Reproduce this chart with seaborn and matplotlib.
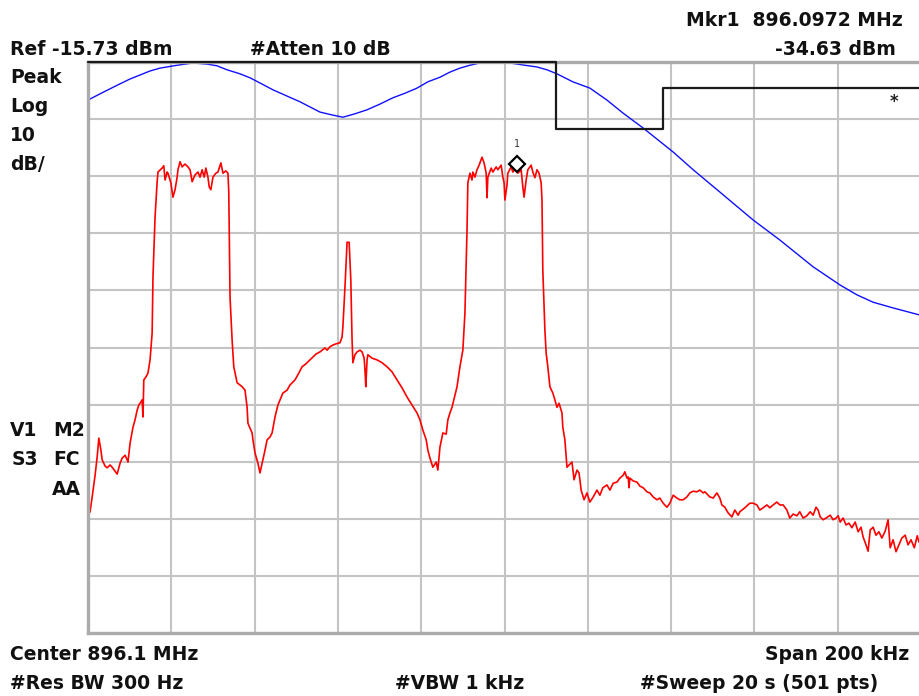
import numpy as np
import seaborn as sns
import matplotlib.pyplot as plt
from matplotlib.transforms import offset_copy

# analyzer settings (from the screen annotations)
ref_level = -15.73
db_per_div = 10
span_khz = 200
mkr_khz = 3.0          # where the marker diamond sits on screen
mkr_db = -34.63

# red trace: offset from 896.1 MHz (kHz) and level (dBm)
red_khz = ([-100.0, -99.5, -99.0, -98.3, -97.8, -97.4, -96.9, -96.6, -95.9, -95.4,
            -94.7, -94.2, -93.5, -93.0, -92.6, -92.3, -91.8, -91.1, -90.6, -90.4,
            -89.9, -89.2, -88.7, -88.2, -87.8, -87.5, -87.0, -86.8, -86.6, -86.1,
            -85.6, -85.1, -84.6, -84.4, -83.9, -83.4, -83.2]
           + [-82.2, -81.8, -81.5, -81.0, -80.8, -80.1, -79.6, -79.1, -78.6, -78.4,
              -77.9, -77.4, -76.7, -76.0, -75.5, -75.0, -74.3, -73.6, -73.1, -72.6,
              -72.1, -71.7, -71.2, -70.9, -70.5, -70.0, -69.3, -68.8, -68.1, -67.6,
              -66.9, -66.4, -66.2]
           + [-65.9, -65.4, -65.0, -64.2, -63.0, -62.3, -61.8, -61.6, -60.6, -60.4,
              -59.9, -59.2, -58.7, -58.0, -57.5, -57.0, -56.3, -55.8, -55.1, -54.4,
              -53.2, -52.2, -51.5, -50.3, -49.6, -48.6, -47.7, -46.7, -46.0, -45.3,
              -44.3, -43.1, -42.6, -41.9, -41.2, -40.5, -39.5, -39.0, -38.8, -38.3,
              -37.8, -37.3, -37.1, -36.9, -36.6, -36.4, -35.9, -35.4, -34.7, -34.2,
              -33.7, -33.5, -33.3, -33.0, -32.8, -31.8, -30.6, -29.4, -28.2, -27.0,
              -25.8, -24.6, -23.4, -22.2, -21.0, -20.3, -19.6, -18.8, -18.4, -17.9,
              -17.2, -16.4, -16.0, -15.5, -14.8, -14.0, -13.6, -13.1, -12.6, -11.9,
              -11.4, -10.7, -10.0, -9.5, -9.0, -8.8, -8.3]
           + [-7.8, -7.6, -7.1, -6.6, -6.1, -5.4, -4.9, -4.4, -4.2, -4.0,
              -3.2, -2.8, -2.0, -1.6, -0.8, -0.4, -0.1, 0.1, 0.6, 0.8,
              1.6, 2.0, 2.8, 3.2, 4.0, 4.4, 4.7, 5.2, 5.6, 6.4,
              6.8, 7.3, 7.8, 8.3, 8.8, 9.0]
           + [9.2, 9.7, 10.0, 10.4, 10.9, 11.6, 12.1, 12.6, 13.1, 13.8,
              14.0, 14.5, 15.0, 15.5, 16.2, 16.7, 17.4, 17.9, 18.4, 19.1,
              19.8, 20.5]
           + [21.3, 22.2, 22.9, 23.6, 24.6, 25.3, 26.1, 27.0, 27.7, 28.5,
              28.9, 29.4, 29.7, 29.9, 30.1, 30.9, 31.8, 32.5, 33.3, 34.2,
              34.9, 35.7, 36.6, 37.3, 38.1, 39.0, 39.7, 40.5, 41.4, 42.1,
              42.9, 43.8, 44.5, 45.3, 46.2, 46.9, 47.7, 48.1, 49.3, 50.1,
              51.0, 51.7, 52.2, 52.9, 53.7, 54.6, 55.3, 56.1, 56.5, 57.7,
              58.9, 59.7, 60.6, 61.3, 62.1, 63.0, 63.7, 64.5, 65.4, 66.1,
              66.9, 67.8, 68.5, 69.3, 70.2, 70.9, 71.7, 72.6, 73.4, 74.1,
              74.8, 75.3, 75.8, 76.5, 77.2, 78.2, 78.9, 79.6, 80.1, 80.6,
              81.3, 82.0, 82.7, 83.4, 84.2, 84.9, 85.6, 86.1, 86.8, 87.3,
              87.8, 88.5, 89.2, 89.9, 90.6, 91.4, 92.1, 92.6, 93.3, 94.0,
              94.7, 95.4, 96.2, 96.9, 97.6, 98.4, 99.1, 99.5, 100.0])

red_db = ([-95.1, -94.5, -91.9, -88.1, -84.9, -81.6, -83.7, -85.4, -86.5, -86.8,
           -86.3, -86.7, -87.4, -87.9, -86.8, -86.0, -85.1, -84.6, -85.4, -85.8,
           -82.5, -79.7, -78.4, -76.7, -75.8, -75.5, -74.9, -77.9, -71.4, -70.9,
           -70.2, -67.9, -63.2, -53.4, -42.9, -36.7, -35.0]
          + [-34.3, -33.9, -36.4, -35.0, -35.2, -36.9, -39.4, -38.1, -35.9, -34.6,
             -33.2, -34.1, -33.6, -34.1, -34.6, -36.7, -35.5, -35.0, -35.9, -34.6,
             -35.9, -34.3, -35.9, -37.6, -38.1, -35.9, -35.2, -35.0, -33.4, -35.2,
             -34.8, -35.2, -38.5]
          + [-56.9, -64.4, -69.1, -71.9, -72.6, -73.2, -76.2, -79.0, -80.7, -81.9,
             -84.2, -86.0, -87.7, -85.4, -83.7, -81.9, -81.4, -80.7, -77.9, -75.8,
             -73.7, -73.2, -72.3, -71.4, -70.5, -69.1, -68.6, -67.9, -67.4, -66.9,
             -66.5, -65.8, -66.2, -65.6, -65.3, -65.1, -64.9, -63.9, -62.1, -55.1,
             -47.3, -47.3, -50.8, -53.9, -64.4, -68.4, -67.0, -66.5, -66.2, -66.5,
             -67.6, -69.7, -72.6, -67.9, -67.0, -67.6, -67.9, -68.4, -69.1, -70.0,
             -71.4, -72.8, -74.4, -75.8, -77.2, -78.4, -80.2, -81.9, -83.7, -85.1,
             -86.7, -85.8, -87.2, -83.2, -80.7, -80.9, -78.4, -77.2, -76.2, -74.1,
             -72.6, -69.1, -66.2, -59.7, -45.2, -36.9, -35.2]
          + [-36.4, -35.0, -35.9, -34.6, -33.8, -32.4, -33.4, -35.2, -39.5, -35.9,
             -34.3, -35.0, -34.1, -34.6, -33.8, -35.9, -36.9, -39.9, -37.3, -35.2,
             -34.1, -35.0, -34.3, -35.2, -34.6, -37.6, -39.4, -36.4, -34.6, -33.8,
             -35.0, -36.0, -34.6, -35.2, -36.9, -39.9]
          + [-52.2, -62.7, -66.7, -69.1, -72.6, -73.7, -74.9, -76.2, -75.5, -77.2,
             -79.7, -81.9, -86.7, -86.3, -85.8, -88.9, -87.2, -87.7, -90.7, -92.4,
             -91.2, -92.8]
          + [-91.9, -90.7, -91.6, -90.3, -89.8, -90.7, -89.5, -89.3, -88.6, -88.1,
             -87.5, -88.6, -88.4, -90.3, -88.6, -89.1, -89.3, -90.0, -90.3, -91.0,
             -91.2, -91.9, -92.4, -92.1, -93.0, -93.7, -93.0, -91.6, -92.1, -92.4,
             -92.4, -91.9, -91.2, -90.9, -91.0, -90.7, -91.2, -91.0, -91.9, -92.1,
             -91.2, -92.1, -93.3, -93.7, -94.7, -95.4, -94.2, -95.1, -94.5, -93.8,
             -93.0, -93.0, -93.3, -94.2, -93.8, -93.3, -93.8, -93.3, -92.8, -93.3,
             -93.3, -94.2, -95.6, -94.9, -95.2, -94.5, -95.6, -95.2, -94.5, -95.1,
             -93.7, -94.2, -95.4, -95.9, -95.6, -95.1, -95.9, -95.6, -95.2, -96.3,
             -95.6, -96.8, -96.5, -97.3, -96.3, -98.0, -97.2, -98.9, -100.3, -101.4,
             -97.7, -97.2, -98.6, -98.0, -99.1, -97.9, -95.9, -100.8, -99.4, -101.5,
             -100.3, -99.1, -98.6, -100.3, -99.4, -100.8, -98.7, -99.8, -99.4])

# blue trace
blue_khz = [-100.0, -97.1, -93.0, -89.9, -87.5, -85.1, -82.7, -78.6, -74.8, -71.4,
            -69.0, -66.6, -63.5, -61.1, -58.2, -55.6, -52.2, -49.1, -46.7, -44.3,
            -41.4, -38.8, -35.9, -33.0, -29.9, -26.8, -23.9, -21.0, -18.4, -15.5,
            -13.1, -10.7, -8.3, -5.9, -2.3, 1.3, 4.9, 7.8, 10.2, 12.6,
            16.4, 20.5, 24.6, 28.5, 33.3, 36.9, 40.5, 45.3, 51.7, 59.7,
            66.1, 74.1, 80.6, 84.6, 88.5, 93.3, 99.5, 100.0]
blue_db = [-22.4, -21.3, -19.8, -18.7, -18.0, -17.3, -16.8, -16.3, -15.9, -16.1,
           -16.4, -17.1, -17.8, -18.5, -19.6, -20.6, -21.7, -22.7, -23.6, -24.5,
           -25.0, -25.4, -24.8, -24.1, -23.1, -22.0, -21.2, -20.3, -19.2, -18.4,
           -17.5, -16.8, -16.3, -15.9, -15.8, -15.9, -16.3, -16.6, -17.1, -17.8,
           -19.2, -20.3, -22.4, -24.7, -27.3, -29.4, -31.5, -34.6, -38.5, -43.4,
           -46.9, -51.6, -54.8, -56.5, -57.8, -58.8, -60.0, -60.1]

# black limit line
limit_khz = [-100.0, 12.4, 38.1, 100.0]
limit_db = [-15.73, -27.46, -20.28, -20.28]

W, H = 919, 696
sns.set_style('white')
plt.rcParams['font.family'] = ['DejaVu Sans']

fig = plt.figure(figsize=(W / 100, H / 100), dpi=100)
ax = fig.add_axes([88 / W, 63 / H, 833 / W, 571 / H])

sns.lineplot(x=blue_khz, y=blue_db, color='#1010ff', linewidth=1.0,
             estimator=None, ax=ax)
sns.lineplot(x=red_khz, y=red_db, color='#ff0000', linewidth=1.2,
             estimator=None, ax=ax)
ax.plot(limit_khz, limit_db, color='#1a1a1a', linewidth=1.6,
        drawstyle='steps-post', clip_on=False, zorder=5)

# marker 1
mk_tr = offset_copy(ax.transData, fig=fig, x=0, y=6, units='dots')
ax.plot([mkr_khz], [mkr_db], marker='D', markersize=8, markerfacecolor='white',
        markeredgecolor='black', markeredgewidth=1.6, transform=mk_tr, zorder=6)
lbl_tr = offset_copy(ax.transData, fig=fig, x=0, y=26, units='dots')
ax.text(mkr_khz, mkr_db, '1', transform=lbl_tr, ha='center', va='center',
        fontsize=7, family='DejaVu Sans Mono', color='#333333')

ax.set_xlim(-span_khz / 2, span_khz / 2)
ax.set_ylim(ref_level - 10 * db_per_div, ref_level)
ax.set_xticks(np.arange(-100, 101, 20))
ax.set_yticks(ref_level - db_per_div * np.arange(0, 11))
ax.tick_params(length=0, labelbottom=False, labelleft=False)
ax.set_xlabel('')
ax.set_ylabel('')
ax.grid(True, color='#c4c4c4', linewidth=1.5)
ax.set_axisbelow(True)
for s in ax.spines.values():
    s.set_color('#ababab')
    s.set_linewidth(2.4)


def screen_text(x, y, s, ha='left', size=13.5):
    fig.text(x / W, 1 - y / H, s, ha=ha, va='baseline', fontsize=size,
             fontweight='bold', color='#111111')


screen_text(903, 26, 'Mkr1  896.0972 MHz', ha='right')
screen_text(10, 55, 'Ref -15.73 dBm')
screen_text(250, 55, '#Atten 10 dB')
screen_text(896, 55, f'{mkr_db:.2f} dBm', ha='right')
screen_text(10, 83, 'Peak')
screen_text(10, 112, 'Log')
screen_text(10, 141, '10')
screen_text(10, 170, 'dB/')
screen_text(10, 436, 'V1')
screen_text(53, 436, 'M2')
screen_text(12, 465, 'S3')
screen_text(53, 465, 'FC')
screen_text(52, 495, 'AA')
screen_text(10, 660, 'Center 896.1 MHz')
screen_text(909, 660, 'Span 200 kHz', ha='right')
screen_text(10, 689, '#Res BW 300 Hz')
screen_text(395, 689, '#VBW 1 kHz')
screen_text(640, 689, '#Sweep 20 s (501 pts)')
fig.text(894 / W, 1 - 102 / H, '*', ha='center', va='center', fontsize=12,
         fontweight='bold', color='#222222')

fig.savefig('out.png', dpi=100)
